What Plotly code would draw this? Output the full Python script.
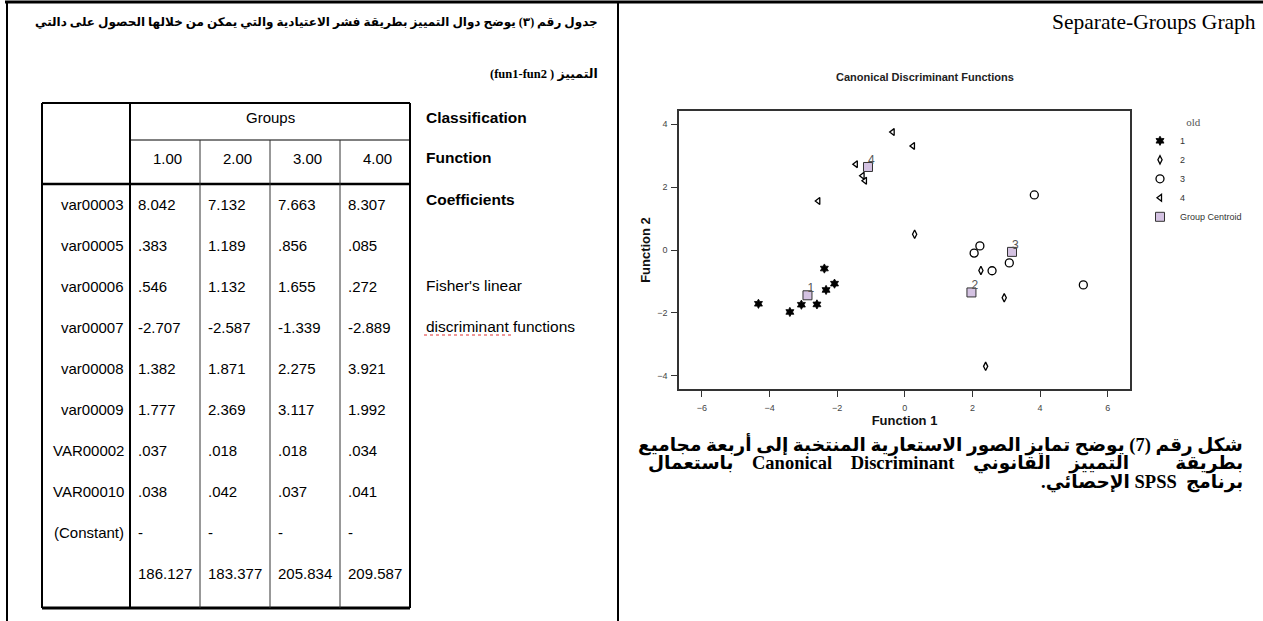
import plotly.graph_objects as go

# ---------------- scatter data (Function 1, Function 2) ----------------
group_names = ["1", "2", "3", "4"]
g1_x = [-2.38, -2.08, -2.33, -4.33, -3.06, -2.60, -3.40]
g1_y = [-0.59, -1.07, -1.27, -1.71, -1.74, -1.73, -1.97]
g2_x = [0.29, 2.25, 2.94, 2.39]
g2_y = [0.50, -0.65, -1.52, -3.70]
g3_x = [3.83, 2.22, 2.05, 3.09, 2.58, 5.28]
g3_y = [1.75, 0.13, -0.10, -0.41, -0.66, -1.11]
g4_x = [-0.36, 0.24, -1.45, -1.25, -1.18, -2.56]
g4_y = [3.75, 3.31, 2.73, 2.36, 2.20, 1.56]
centroid_x = [-2.88, 1.97, 3.17, -1.09]
centroid_y = [-1.44, -1.35, -0.06, 2.64]
centroid_labels = ["1", "2", "3", "4"]
x_ticks = [-6, -4, -2, 0, 2, 4, 6]
y_ticks = [-4, -2, 0, 2, 4]

# ---------------- table data ----------------
table_groups = ["1.00", "2.00", "3.00", "4.00"]
row_names = ["var00003", "var00005", "var00006", "var00007", "var00008",
             "var00009", "VAR00002", "VAR00010", "(Constant)"]
coef_group1 = ["8.042", ".383", ".546", "-2.707", "1.382", "1.777", ".037", ".038", "-"]
coef_group2 = ["7.132", "1.189", "1.132", "-2.587", "1.871", "2.369", ".018", ".042", "-"]
coef_group3 = ["7.663", ".856", "1.655", "-1.339", "2.275", "3.117", ".018", ".037", "-"]
coef_group4 = ["8.307", ".085", ".272", "-2.889", "3.921", "1.992", ".034", ".041", "-"]
constant_values = ["186.127", "183.377", "205.834", "209.587"]

side_labels = ["Classification", "Function", "Coefficients"]
side_notes = ["Fisher's linear", "discriminant functions"]

RLE, PDF = "\u202b", "\u202c"
NB = "\u00a0"
heading_1 = "جدول رقم (٣) يوضح دوال التمييز بطريقة فشر الاعتيادية والتي يمكن من خلالها الحصول على دالتي"
heading_2 = "التمييز ( fun1-fun2)"
caption_lines = [
    "شكل رقم (7) يوضح تمايز الصور الاستعارية المنتخبة إلى أربعة مجاميع",
    "بطريقة" + NB * 10 + "التمييز" + NB * 4 + "القانوني" + NB * 4 + "Canonical"
    + NB * 4 + "Discriminant" + NB * 4 + "باستعمال",
    "برنامج" + NB * 2 + "SPSS الإحصائي.",
]

# ---------------- page geometry (pixels) ----------------
W, H = 1263, 621
PL, PR, PT, PB = 679, 1130, 111, 389


def fx(px):
    return (px - PL) / (PR - PL)


def fy(py):
    return (PB - py) / (PB - PT)


shapes = []
annotations = []


def hline(x0, x1, y, w=1, color="black", dash=None):
    shapes.append(dict(type="line", xref="paper", yref="paper",
                       x0=fx(x0), x1=fx(x1), y0=fy(y), y1=fy(y),
                       line=dict(color=color, width=w, dash=dash)))


def vline(x, y0, y1, w=1, color="black"):
    shapes.append(dict(type="line", xref="paper", yref="paper",
                       x0=fx(x), x1=fx(x), y0=fy(y0), y1=fy(y1),
                       line=dict(color=color, width=w)))


def text(t, px, py, size, anchor="left", family="Liberation Sans",
         color="black", angle=0):
    annotations.append(dict(text=t, x=fx(px), y=fy(py), xref="paper", yref="paper",
                            xanchor=anchor, yanchor="middle", showarrow=False,
                            textangle=angle,
                            font=dict(family=family, size=size, color=color)))


# page frame
hline(5, W, 2, w=3)
vline(7, 1, H, w=2)
vline(618, 1, H, w=2)

# ---------------- left panel: heading ----------------
AR = "Liberation Serif, DejaVu Sans"
text("<b>" + RLE + heading_1 + PDF + "</b>", 600, 22, 12, anchor="right", family=AR)
text("<b>" + RLE + heading_2 + PDF + "</b>", 600, 74, 12.5, anchor="right", family=AR)

# ---------------- left panel: table ----------------
TL, TR = 42, 410
cols = [130, 200, 270, 340]
T_TOP, T_GRP, T_HDR, T_BOT = 103, 140, 184, 608
ROW0, ROW_STEP = 204, 41
TF = 15

hline(TL, TR, T_TOP, w=2)
hline(cols[0], TR, T_GRP, w=1)
hline(TL, TR, T_HDR, w=2.5)
hline(TL, TR, T_BOT, w=3)
vline(TL, T_TOP, T_BOT, w=2)
vline(cols[0], T_TOP, T_BOT, w=2)
for c in cols[1:]:
    vline(c, T_GRP, T_BOT, w=1, color="#333")
vline(TR, T_TOP, T_BOT, w=2)

text("Groups", (cols[0] + TR) / 2, 117, TF, anchor="center")
col_edges = cols + [TR]
for j, g in enumerate(table_groups):
    text(g, (col_edges[j] + col_edges[j + 1]) / 2 + 2, 158, TF, anchor="center")

coef_cols = [coef_group1, coef_group2, coef_group3, coef_group4]
for i, name in enumerate(row_names):
    ry = ROW0 + i * ROW_STEP
    text(name, 126, ry, TF, anchor="right")
    for j, colvals in enumerate(coef_cols):
        text(colvals[i], cols[j] + 6, ry, TF, anchor="left")
const_y = ROW0 + len(row_names) * ROW_STEP
for j, v in enumerate(constant_values):
    text(v, cols[j] + 6, const_y, TF, anchor="left")

for k, s in enumerate(side_labels):
    text("<b>" + s + "</b>", 424, [117, 157, 199][k], 15.5)
for k, s in enumerate(side_notes):
    text(s, 424, [285, 326][k], 15.5)
hline(424, 511, 335, w=1, color="#e03030", dash="dot")

# ---------------- right panel texts ----------------
text("Separate-Groups Graph", 1258, 22, 21.5, anchor="right", family="Liberation Serif")
text("<b>Canonical Discriminant Functions</b>", 925, 77, 11, anchor="center",
     color="#222")
for k, line in enumerate(caption_lines):
    text("<b>" + RLE + line + PDF + "</b>", 1245, 444 + k * 19, 18.5,
         anchor="right", family=AR)

# ---------------- scatter traces ----------------
fig = go.Figure()
mk_line = dict(color="black", width=1.3)
fig.add_trace(go.Scatter(x=g1_x, y=g1_y, mode="markers", name=group_names[0],
                         marker=dict(symbol="hexagram", size=7, color="black",
                                     line=dict(color="black", width=0.8))))
fig.add_trace(go.Scatter(x=g2_x, y=g2_y, mode="markers", name=group_names[1],
                         marker=dict(symbol="diamond-tall-open", size=6,
                                     color="black", line=mk_line)))
fig.add_trace(go.Scatter(x=g3_x, y=g3_y, mode="markers", name=group_names[2],
                         marker=dict(symbol="circle-open", size=8,
                                     color="black", line=mk_line)))
fig.add_trace(go.Scatter(x=g4_x, y=g4_y, mode="markers", name=group_names[3],
                         marker=dict(symbol="triangle-left-open", size=6,
                                     color="black", line=mk_line)))
fig.add_trace(go.Scatter(x=centroid_x, y=centroid_y, mode="markers",
                         name="Group Centroid",
                         marker=dict(symbol="square", size=9, color="#d4c2e2",
                                     line=dict(color="#333", width=1))))
fig.add_trace(go.Scatter(x=centroid_x, y=centroid_y, mode="text",
                         text=centroid_labels, textposition="top right",
                         textfont=dict(family="Liberation Sans", size=12, color="#555"),
                         showlegend=False, hoverinfo="skip"))

axis_common = dict(showline=True, mirror=True, linecolor="#333", linewidth=1.5,
                   showgrid=False, zeroline=False, ticks="outside", ticklen=6,
                   tickcolor="#333", tickwidth=1,
                   tickfont=dict(family="Liberation Sans", size=9, color="#444"))

fig.update_layout(
    width=W, height=H,
    margin=dict(l=PL, r=W - PR, t=PT, b=H - PB, autoexpand=False),
    paper_bgcolor="white", plot_bgcolor="white",
    xaxis=dict(range=[-6.68, 6.66], tickvals=x_ticks, ticklabelstandoff=3,
               title=dict(text="<b>Function 1</b>", standoff=2,
                          font=dict(family="Liberation Sans", size=13, color="#111")),
               **axis_common),
    yaxis=dict(range=[-4.42, 4.42], tickvals=y_ticks, ticklabelstandoff=2,
               title=dict(text="<b>Function 2</b>", standoff=4,
                          font=dict(family="Liberation Sans", size=13, color="#111")),
               **axis_common),
    showlegend=True,
    legend=dict(x=fx(1140), y=fy(112), xanchor="left", yanchor="top",
                bgcolor="rgba(0,0,0,0)", tracegroupgap=0, itemwidth=30,
                font=dict(family="Liberation Sans", size=9, color="#333"),
                title=dict(text="old", side="top center",
                           font=dict(family="Liberation Serif", size=11, color="#555"))),
    shapes=shapes,
    annotations=annotations,
)

fig.write_html("out.html",
               config={"displayModeBar": False},
               post_script="document.body.style.margin='0';"
                           "document.body.style.overflow='hidden';")
